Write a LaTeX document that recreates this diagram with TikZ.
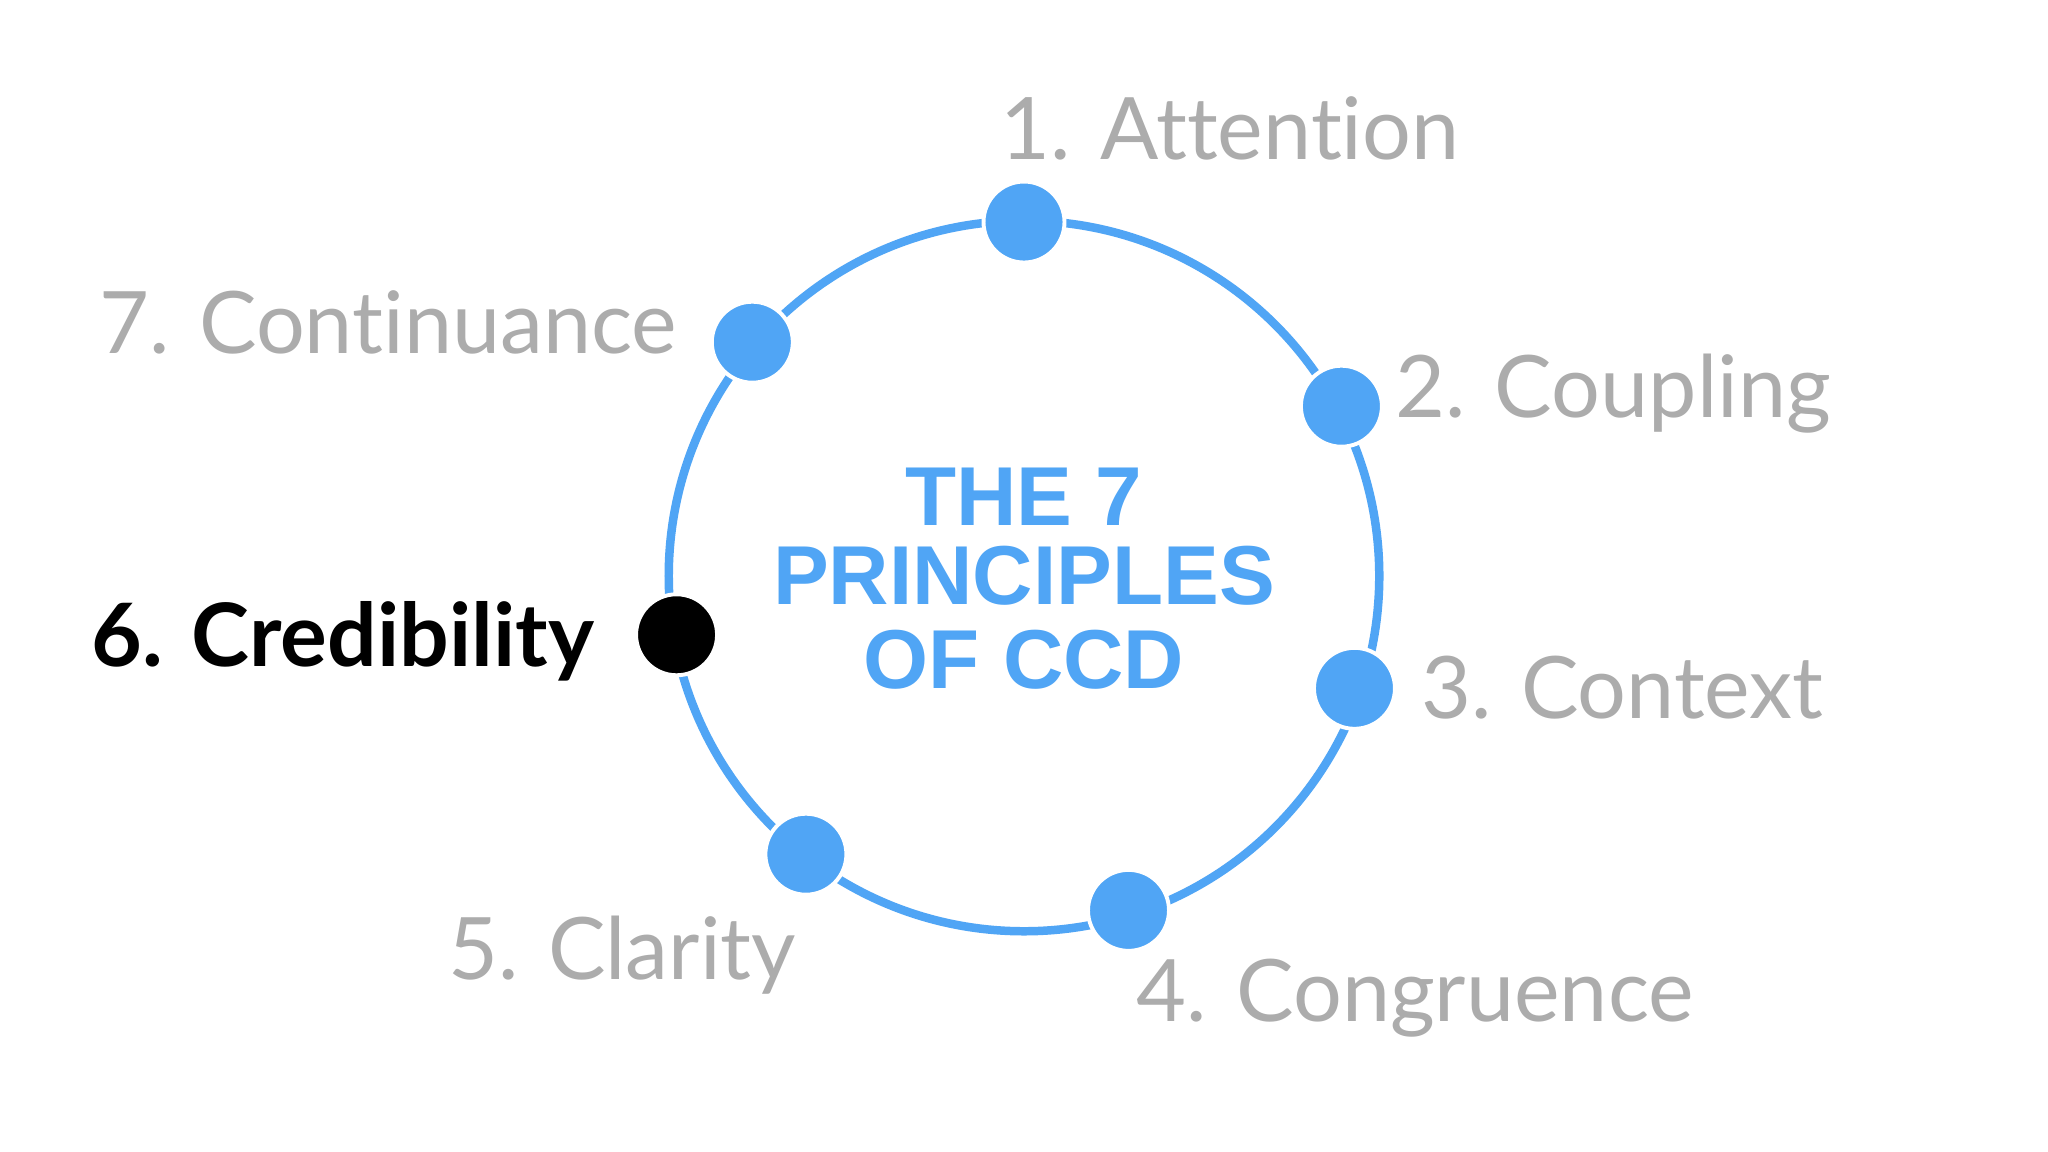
\documentclass[tikz,border=0pt]{standalone}
\usepackage{fontspec}
\setmainfont{Lato}[Ligatures={NoCommon}]
\newfontfamily\titlefont{Liberation Sans}
\definecolor{cblue}{RGB}{80,165,245}
\definecolor{lgray}{RGB}{172,172,172}
\begin{document}
\begin{tikzpicture}[x=1pt,y=-1pt,
  dot/.style={circle,fill=cblue,draw=white,line width=3pt,minimum size=62pt,inner sep=0pt},
  lab/.style={anchor=base west,text=lgray,font=\fontsize{66}{70}\selectfont,inner sep=0pt},
  ttl/.style={anchor=base,text=cblue,font=\titlefont\bfseries\fontsize{64}{64}\selectfont,inner sep=0pt}]
\useasboundingbox (0,0) rectangle (1568,882);
\fill[white] (0,0) rectangle (1568,882);
\node[circle,draw=cblue,line width=6.5pt,minimum size=544pt,inner sep=0pt] (ring) at (784,441) {};
\node[dot] (d1) at (784,170) {};
\node[dot] (d2) at (1027,311) {};
\node[dot] (d3) at (1037,527) {};
\node[dot] (d4) at (864,697) {};
\node[dot] (d5) at (617,654) {};
\node[dot,fill=black] (d6) at (518,486) {};
\node[dot] (d7) at (576,262) {};
\node[lab] (l1) at (766,122) {1. Attention};
\node[lab] (l2) at (1068,320) {2. Coupling};
\node[lab] (l3) at (1088,550) {3. Context};
\node[lab] (l4) at (870,782) {4. Congruence};
\node[lab] (l5) at (343,750) {5. Clarity};
\node[lab,text=black,font=\bfseries\fontsize{67}{70}\selectfont] (l6) at (70,510) {6. Credibility};
\node[lab] (l7) at (76,271) {7. Continuance};
\node[ttl] (t1) at (784,402) {THE 7};
\node[ttl] (t2) at (784,463) {PRINCIPLES};
\node[ttl] (t3) at (784,527) {OF CCD};
\end{tikzpicture}
\end{document}
